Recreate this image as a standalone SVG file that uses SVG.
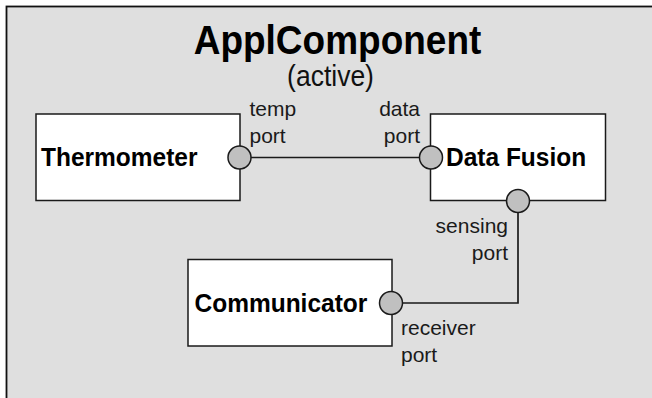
<svg xmlns="http://www.w3.org/2000/svg" width="652" height="398" viewBox="0 0 652 398">
  <style>
    .frame { fill: #dfdfdf; stroke: #111; stroke-width: 1.8; }
    .box { fill: #ffffff; stroke: #1a1a1a; stroke-width: 1.5; }
    .port { fill: #c0c0c0; stroke: #1a1a1a; stroke-width: 1.5; }
    .wire { fill: none; stroke: #1a1a1a; stroke-width: 1.7; }
    .title { font-family: "Liberation Sans", Arial, sans-serif; font-weight: bold; font-size: 37px; fill: #000; }
    .sub { font-family: "Liberation Sans", Arial, sans-serif; font-size: 26.5px; fill: #111; }
    .name { font-family: "Liberation Sans", Arial, sans-serif; font-weight: bold; font-size: 24.5px; fill: #000; }
    .label { font-family: "Liberation Sans", Arial, sans-serif; font-size: 21px; fill: #1a1a1a; }
  </style>
  <rect width="652" height="398" fill="#ffffff"/>
  <g id="ApplComponent">
    <rect class="frame" x="6.5" y="6.5" width="700" height="450"/>
    <!-- heading glyphs are drawn slightly taller than wide -->
    <text class="title" transform="translate(337.5,54) scale(1,1.12)" text-anchor="middle">ApplComponent</text>
    <text class="sub" transform="translate(330.5,86) scale(1,1.08)" text-anchor="middle">(active)</text>
  </g>
  <g id="connectors">
    <line class="wire" x1="250" y1="157.5" x2="420" y2="157.5"/>
    <polyline class="wire" points="518,212 518,303 402,303"/>
  </g>
  <g id="Thermometer">
    <rect class="box" x="36" y="114" width="204" height="86.5"/>
    <text class="name" transform="translate(41,166) scale(1,1.05)">Thermometer</text>
    <circle class="port" cx="239.5" cy="157.5" r="11.5"/>
    <text class="label" x="249.5" y="116">temp</text>
    <text class="label" x="249.5" y="143">port</text>
  </g>
  <g id="DataFusion">
    <rect class="box" x="430.5" y="114" width="175" height="86.5"/>
    <text class="name" transform="translate(446,166) scale(1,1.05)">Data Fusion</text>
    <circle class="port" cx="431" cy="157.5" r="11.5"/>
    <circle class="port" cx="518" cy="201" r="11.5"/>
    <text class="label" x="420" y="116" text-anchor="end">data</text>
    <text class="label" x="420" y="143" text-anchor="end">port</text>
    <text class="label" x="508" y="233" text-anchor="end">sensing</text>
    <text class="label" x="508" y="260" text-anchor="end">port</text>
  </g>
  <g id="Communicator">
    <rect class="box" x="188" y="259.5" width="204" height="86.5"/>
    <text class="name" transform="translate(194.5,312) scale(1,1.05)">Communicator</text>
    <circle class="port" cx="391" cy="303" r="11.5"/>
    <text class="label" x="401" y="335">receiver</text>
    <text class="label" x="401" y="362">port</text>
  </g>
</svg>
